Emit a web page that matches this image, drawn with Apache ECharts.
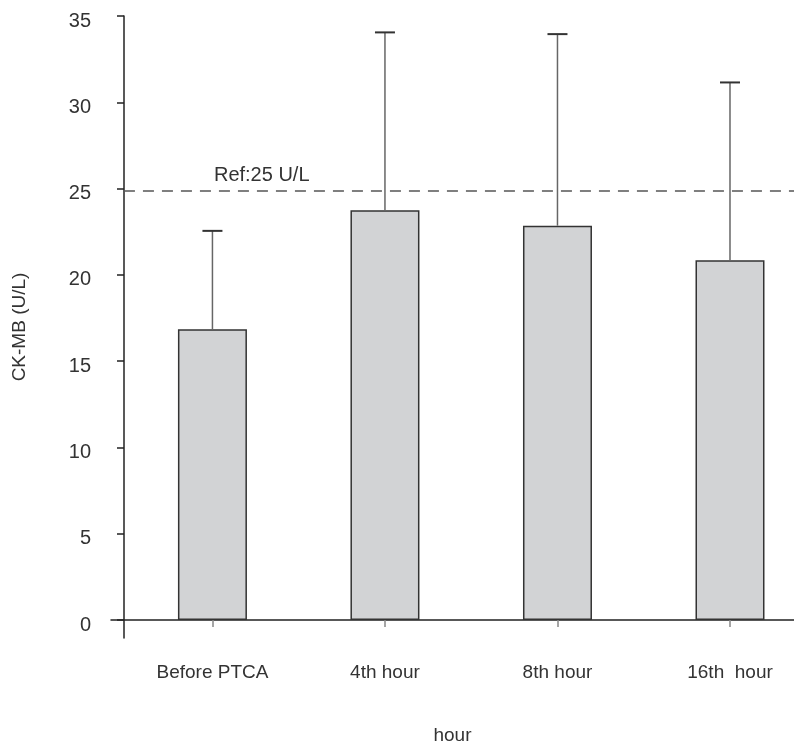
<!DOCTYPE html>
<html><head><meta charset="utf-8">
<script src="https://cdn.jsdelivr.net/npm/echarts@6/dist/echarts.min.js"></script>
<style>html,body{margin:0;padding:0;background:#fff}#c{width:794px;height:748px}</style>
</head><body><div id="c"></div>
<script>
const categories = ['Before PTCA', '4th hour', '8th hour', '16th  hour'];
const means = [16.85, 23.75, 22.85, 20.85];
const upper = [22.55, 34.05, 33.95, 31.15];
const refValue = 24.9;
const refLabel = 'Ref:25 U/L';
const yTicks = [0, 5, 10, 15, 20, 25, 30, 35];

const FONT = '"Liberation Sans", Arial, sans-serif';
const xMin = -0.588, xMax = 3.371, yAxisX = -0.513;

const chart = echarts.init(document.getElementById('c'), null, {renderer: 'canvas'});
chart.setOption({
  animation: false,
  backgroundColor: '#fff',
  grid: {left: 111, right: 0, top: 16, bottom: 110, containLabel: false, outerBoundsMode: 'none'},
  xAxis: {
    type: 'value', min: xMin, max: xMax,
    splitLine: {show: false},
    axisLine: {show: true, onZero: true, lineStyle: {color: '#222', width: 1.5}},
    axisTick: {show: true, customValues: categories.map((c, i) => i), length: 7, lineStyle: {color: '#888', width: 1.5}},
    axisLabel: {customValues: categories.map((c, i) => i), formatter: v => categories[Math.round(v)], margin: 25,
      fontFamily: FONT, fontSize: 19, color: '#333'},
    name: 'hour', nameLocation: 'middle', nameGap: 88,
    nameTextStyle: {fontFamily: FONT, fontSize: 19, color: '#333'}
  },
  yAxis: {
    type: 'value', min: -1.04, max: 35, offset: -13,
    splitLine: {show: false},
    axisLine: {show: true, onZero: false, lineStyle: {color: '#222', width: 1.5}},
    axisTick: {show: true, customValues: yTicks, length: 7, lineStyle: {color: '#222', width: 1.5}},
    axisLabel: {customValues: yTicks, margin: 33, formatter: '{a|{value}}',
      rich: {a: {padding: [10, 0, 0, 0], fontFamily: FONT, fontSize: 20, color: '#333'}},
      fontFamily: FONT, fontSize: 20, color: '#333'},
    name: 'CK-MB (U/L)', nameLocation: 'middle', nameGap: 95,
    nameTextStyle: {fontFamily: FONT, fontSize: 19, color: '#333'}
  },
  series: [
    {
      type: 'bar',
      data: means.map((v, i) => [i, v]),
      barWidth: 69,
      itemStyle: {color: '#d2d3d5', borderColor: '#333', borderWidth: 1.5},
      markLine: {
        silent: true, symbol: 'none',
        lineStyle: {color: '#555', type: [11, 8], width: 1.5},
        label: {show: true, position: 'insideStartTop', formatter: refLabel, distance: [90, 5],
          fontFamily: FONT, fontSize: 20, color: '#333'},
        data: [[{coord: [yAxisX, refValue]}, {coord: [xMax, refValue]}]]
      },
      z: 2
    },
    {
      type: 'custom',
      data: upper.map((u, i) => [i, means[i], u]),
      encode: {x: 0, y: [1, 2]},
      renderItem: function (params, api) {
        const x = api.value(0);
        const lo = api.coord([x, api.value(1)]);
        const hi = api.coord([x, api.value(2)]);
        return {
          type: 'group',
          children: [
            {type: 'line', shape: {x1: lo[0], y1: lo[1], x2: hi[0], y2: hi[1]}, style: {stroke: '#666', lineWidth: 1.5}},
            {type: 'line', shape: {x1: hi[0] - 10, y1: hi[1], x2: hi[0] + 10, y2: hi[1]}, style: {stroke: '#333', lineWidth: 2}}
          ]
        };
      },
      z: 3
    }
  ]
});
</script>
</body></html>
